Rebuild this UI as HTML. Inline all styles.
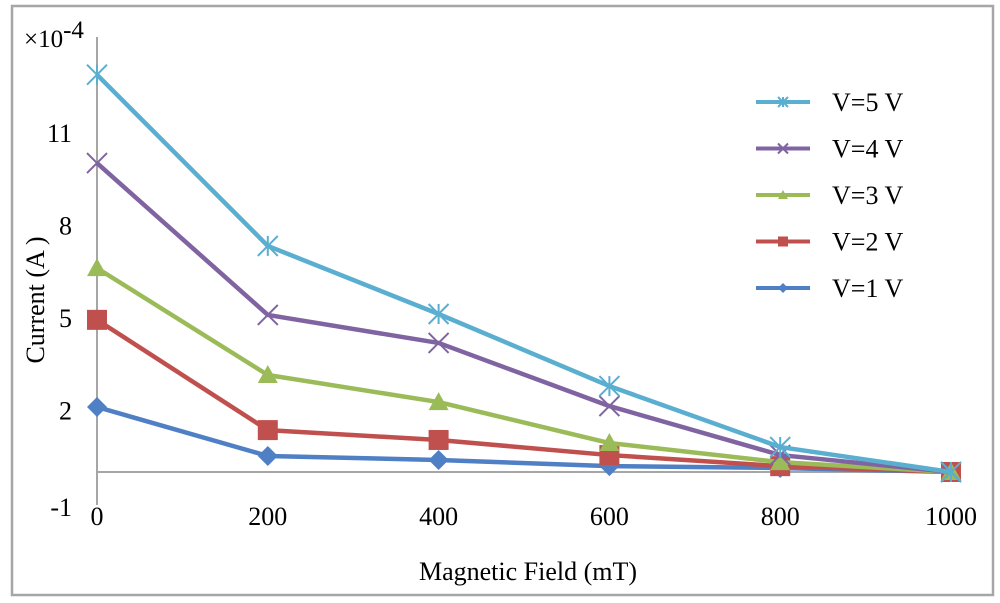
<!DOCTYPE html>
<html><head><meta charset="utf-8"><style>
html,body{margin:0;padding:0;background:#fff;}
svg{display:block;font-family:"Liberation Serif",serif;}
</style></head><body>
<svg id="chart" width="1000" height="603">
<rect x="12" y="6" width="981" height="589" fill="#fff" stroke="#a6a6a6" stroke-width="2.5"/>
<g id="axes"></g><g id="series"></g><g id="legend"></g>
<text x="24" y="47" font-size="25">×10<tspan dy="-9">-4</tspan></text>
<text x="44" y="300" font-size="26" text-anchor="middle" transform="rotate(-90 44 300)">Current (A )</text>
<text x="528" y="580" font-size="26" text-anchor="middle">Magnetic Field (mT)</text>
</svg>
<script>
const fields=[0,200,400,600,800,1000];
const xTicks=[0,200,400,600,800,1000];
const yTicks=[-1,2,5,8,11];
const seriesNames=["V=5 V","V=4 V","V=3 V","V=2 V","V=1 V"];
const v5=[12.9,7.34,5.13,2.79,0.81,0];
const v4=[10.03,5.1,4.19,2.14,0.55,0];
const v3=[6.62,3.15,2.27,0.94,0.32,0];
const v2=[4.94,1.36,1.04,0.55,0.19,0];
const v1=[2.11,0.52,0.39,0.19,0.13,0];
const ns="http://www.w3.org/2000/svg";
const X=v=>97+v*(951-97)/1000;
const Y=v=>472-v*30.8;
function mk(tag,attrs,parent){const e=document.createElementNS(ns,tag);for(const k in attrs)e.setAttribute(k,attrs[k]);parent.appendChild(e);return e;}
const ax=document.getElementById('axes');
let l=mk('line',{x1:97,y1:37,x2:97,y2:505,stroke:'#a6a6a6','stroke-width':2},ax);


l=mk('line',{x1:97,y1:Y(0),x2:951,y2:Y(0),stroke:'#a6a6a6','stroke-width':2},ax);


yTicks.forEach(t=>{const e=mk('text',{x:72,y:Y(t)+(t<0?13:9),'font-size':26,'text-anchor':'end'},ax);e.textContent=t;

});
xTicks.forEach(t=>{const e=mk('text',{x:X(t),y:525,'font-size':26,'text-anchor':'middle'},ax);e.textContent=t;

});
const data=[v5,v4,v3,v2,v1];
const colors=["#5aaed0","#8064a2","#9bbb59","#c0504d","#4f7fc4"];
const markers=["star","x","tri","sq","dia"];
function marker(g,type,x,y,c,s){
 if(type==='sq')mk('rect',{x:x-s,y:y-s,width:2*s,height:2*s,fill:c},g);
 else if(type==='dia')mk('polygon',{points:`${x},${y-s} ${x+s},${y} ${x},${y+s} ${x-s},${y}`,fill:c},g);
 else if(type==='tri')mk('polygon',{points:`${x},${y-s} ${x+s},${y+s*0.8} ${x-s},${y+s*0.8}`,fill:c},g);
 else{mk('path',{d:`M${x-s},${y-s}L${x+s},${y+s}M${x-s},${y+s}L${x+s},${y-s}`+(type==='star'?`M${x},${y-s}L${x},${y+s}`:''),stroke:c,'stroke-width':2,fill:'none'},g);}
}
const sg=document.getElementById('series');
for(let i=data.length-1;i>=0;i--){
 const g=mk('g',{},sg);
 
 
 const pts=data[i].map((v,j)=>X(fields[j])+','+Y(v)).join(' ');
 mk('polyline',{points:pts,fill:'none',stroke:colors[i],'stroke-width':4.5,'stroke-linejoin':'round'},g);
 data[i].forEach((v,j)=>marker(g,markers[i],X(fields[j]),Y(v),colors[i],10));
}
const lg=document.getElementById('legend');
seriesNames.forEach((n,i)=>{const y=102+i*46.5;
 const g=mk('g',{},lg);
 
 
 mk('line',{x1:756,y1:y,x2:810,y2:y,stroke:colors[i],'stroke-width':4},g);
 marker(g,markers[i],783,y,colors[i],5);
 const t=mk('text',{x:832,y:y+9,'font-size':26},g);t.textContent=n;});
</script>
</body></html>
